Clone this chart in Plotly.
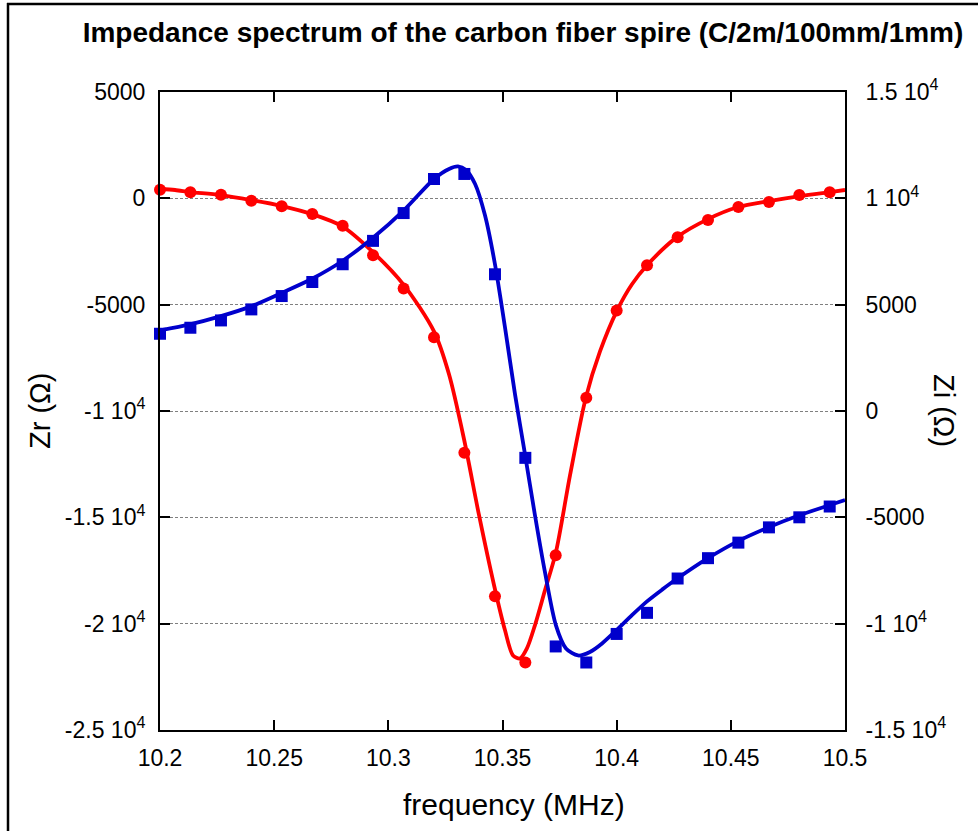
import plotly.graph_objects as go

# ---- measured data (markers) ----
freq = [10.2000, 10.2133, 10.2267, 10.2400, 10.2533, 10.2667, 10.2800, 10.2933,
        10.3067, 10.3200, 10.3333, 10.3467, 10.3600, 10.3733, 10.3867, 10.4000,
        10.4133, 10.4267, 10.4400, 10.4533, 10.4667, 10.4800, 10.4933]
zr_meas = [406, 283, 170, -113, -377, -741, -1292, -2675, -4245, -6528, -11967,
           -18712, -21825, -16778, -9373, -5269, -3146, -1825, -1024, -410, -175, 156, 283]
zi_meas = [3632, 3915, 4259, 4778, 5405, 6066, 6901, 8000, 9307, 10910, 11146,
           6429, -2203, -11071, -11826, -10483, -9491, -7877, -6920, -6189, -5472, -4999, -4491]

# ---- fitted curves ----
zr_fit_f = [10.2000, 10.2066, 10.2131, 10.2263, 10.2399, 10.2534, 10.2666, 10.2797,
            10.2933, 10.3069, 10.3200, 10.3266, 10.3332, 10.3397, 10.3463, 10.3511,
            10.3546, 10.3577, 10.3607, 10.3642, 10.3686, 10.3734, 10.3796, 10.3865,
            10.3927, 10.4002, 10.4067, 10.4133, 10.4264, 10.4400, 10.4532, 10.4668,
            10.4803, 10.4934, 10.5000]
zr_fit = [439, 392, 297, 156, -80, -363, -741, -1307, -2533, -4090, -6259, -8287,
          -11353, -14890, -18192, -20314, -21494, -21635, -21163, -20078, -18427,
          -16635, -13003, -9371, -7201, -5267, -4041, -3146, -1825, -976, -410,
          -127, 108, 297, 392]

zi_fit_f = [10.2000, 10.2131, 10.2263, 10.2399, 10.2534, 10.2666, 10.2797, 10.2933,
            10.3069, 10.3200, 10.3266, 10.3305, 10.3340, 10.3380, 10.3423, 10.3467,
            10.3511, 10.3555, 10.3599, 10.3642, 10.3686, 10.3734, 10.3778, 10.3831,
            10.3883, 10.3936, 10.4002, 10.4067, 10.4133, 10.4199, 10.4264, 10.4400,
            10.4532, 10.4668, 10.4803, 10.4934, 10.5000]
zi_fit = [3788, 4071, 4448, 4920, 5557, 6217, 7042, 8151, 9448, 10910, 11382,
          11500, 11335, 10675, 9212, 6901, 3929, 769, -2061, -4891, -7580, -10080,
          -11165, -11496, -11330, -10930, -10280, -9600, -8950, -8400, -7890, -6920,
          -6118, -5458, -4892, -4420, -4184]

# ---- tick labels ----
left_vals = [5000, 0, -5000, -10000, -15000, -20000, -25000]
left_text = ["5000", "0", "-5000", "-1 10<sup>4</sup>", "-1.5 10<sup>4</sup>",
             "-2 10<sup>4</sup>", "-2.5 10<sup>4</sup>"]
right_vals = [15000, 10000, 5000, 0, -5000, -10000, -15000]
right_text = ["1.5 10<sup>4</sup>", "1 10<sup>4</sup>", "5000", "0", "-5000",
              "-1 10<sup>4</sup>", "-1.5 10<sup>4</sup>"]
x_vals = [10.2, 10.25, 10.3, 10.35, 10.4, 10.45, 10.5]
x_text = ["10.2", "10.25", "10.3", "10.35", "10.4", "10.45", "10.5"]

RED = "#FF0000"
BLUE = "#0000CC"
FONT = "Liberation Sans, Arial, sans-serif"
TICK = 23

fig = go.Figure()
fig.add_trace(go.Scatter(x=zr_fit_f, y=zr_fit, mode="lines",
                         line=dict(color=RED, width=3.8, shape="spline", smoothing=0.8),
                         showlegend=False, yaxis="y"))
fig.add_trace(go.Scatter(x=freq, y=zr_meas, mode="markers",
                         marker=dict(color=RED, size=12, symbol="circle"),
                         showlegend=False, yaxis="y", cliponaxis=False))
fig.add_trace(go.Scatter(x=zi_fit_f, y=zi_fit, mode="lines",
                         line=dict(color=BLUE, width=3.8, shape="spline", smoothing=0.8),
                         showlegend=False, yaxis="y2"))
fig.add_trace(go.Scatter(x=freq, y=zi_meas, mode="markers",
                         marker=dict(color=BLUE, size=12, symbol="square"),
                         showlegend=False, yaxis="y2", cliponaxis=False))

W, H = 978, 831
L, R, T, B = 160, 845, 92, 730

def px(x):
    return (x - L) / (R - L)

def py(y):
    return (B - y) / (B - T)

axis_common = dict(showline=True, linecolor="black", linewidth=2, zeroline=False,
                   ticks="inside", ticklen=10, tickwidth=2, tickcolor="black",
                   tickfont=dict(size=TICK, family=FONT, color="black"))

fig.update_layout(
    width=W, height=H,
    margin=dict(l=L, r=W - R, t=T, b=H - B),
    paper_bgcolor="white", plot_bgcolor="white",
    font=dict(family=FONT, color="black", size=TICK),
    title=dict(text="<b>Impedance spectrum of the carbon fiber spire (C/2m/100mm/1mm)</b>",
               x=523 / W, xanchor="center", y=1 - 32 / H, yanchor="middle",
               font=dict(family=FONT, size=28, color="black")),
    xaxis=dict(range=[10.2, 10.5], tickvals=x_vals, ticktext=x_text, showgrid=False,
               mirror="ticks", ticklabelstandoff=6, **axis_common),
    yaxis=dict(range=[-25000, 5000], tickvals=left_vals, ticktext=left_text,
               showgrid=True, gridcolor="#808080", griddash="3px,2px", gridwidth=1,
               ticklabelstandoff=8, **axis_common),
    yaxis2=dict(range=[-15000, 15000], tickvals=right_vals, ticktext=right_text,
                overlaying="y", side="right", showgrid=False,
                ticklabelstandoff=14, **axis_common),
    annotations=[
        dict(text="frequency (MHz)", xref="paper", yref="paper", x=px(514), y=py(804),
             xanchor="center", yanchor="middle", showarrow=False, font=dict(size=30, family=FONT)),
        dict(text="Zr (Ω)", xref="paper", yref="paper", x=px(40), y=py(411), textangle=-90,
             xanchor="center", yanchor="middle", showarrow=False, font=dict(size=29, family=FONT)),
        dict(text="Zi (Ω)", xref="paper", yref="paper", x=px(944), y=py(411), textangle=90,
             xanchor="center", yanchor="middle", showarrow=False, font=dict(size=29, family=FONT)),
    ],
    shapes=[
        dict(type="line", xref="paper", yref="paper", x0=px(8), x1=px(8), y0=py(3), y1=py(831),
             line=dict(color="black", width=2.5)),
        dict(type="line", xref="paper", yref="paper", x0=px(7), x1=px(978), y0=py(4), y1=py(4),
             line=dict(color="black", width=2.5)),
    ],
)

fig.write_html("out.html")
